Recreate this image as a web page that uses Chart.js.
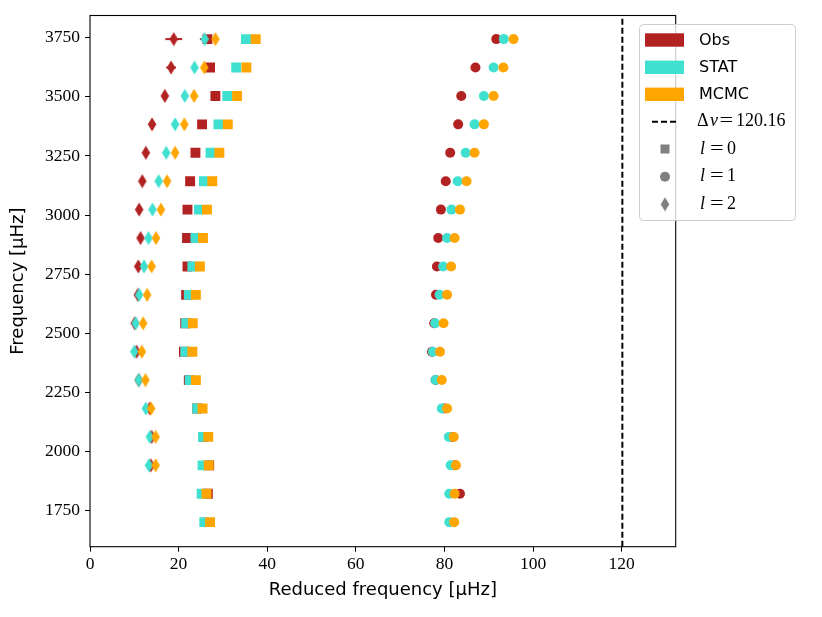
<!DOCTYPE html>
<html>
<head>
<meta charset="utf-8">
<script src="https://cdn.jsdelivr.net/npm/chart.js@4.4.0/dist/chart.umd.min.js"></script>
<style>
  html, body { margin: 0; padding: 0; background: #fff; }
</style>
</head>
<body>
<canvas id="echelle" width="822" height="617"></canvas>
<script>
// echelle rows, top row first [uHz]
const rowFreq = [3744.2, 3624.0, 3503.9, 3383.7, 3263.6, 3143.4, 3023.2, 2903.1, 2782.9,
                 2662.8, 2542.6, 2422.4, 2302.3, 2182.1, 2062.0, 1941.8, 1821.6, 1701.5];

// reduced frequencies (nu mod dnu), same row order
const obsL0  = [26.5, 27.1, 28.3, 25.3, 23.8, 22.6, 22.0, 21.9, 22.0, 21.7, 21.5, 21.2, 22.3, 24.2, 25.6, 26.9, 26.6, null];
const statL0 = [35.2, 33.0, 31.0, 29.0, 27.2, 25.7, 24.6, 23.8, 23.1, 22.3, 21.7, 21.5, 22.5, 24.2, 25.5, 25.4, 25.2, 25.8];
const mcmcL0 = [37.4, 35.3, 33.2, 31.1, 29.2, 27.6, 26.4, 25.5, 24.8, 23.9, 23.2, 23.1, 23.9, 25.4, 26.7, 26.8, 26.3, 27.1];

const obsL1  = [91.7, 87.0, 83.8, 83.1, 81.3, 80.3, 79.2, 78.6, 78.3, 78.1, 77.7, 77.2, 78.0, 80.0, 81.8, 82.4, 83.5, null];
const statL1 = [93.4, 91.1, 88.9, 86.8, 84.8, 83.0, 81.6, 80.6, 79.7, 78.9, 77.9, 77.4, 78.0, 79.4, 81.0, 81.4, 81.1, 81.1];
const mcmcL1 = [95.6, 93.3, 91.1, 88.9, 86.8, 85.0, 83.5, 82.3, 81.5, 80.6, 79.8, 79.0, 79.4, 80.6, 82.1, 82.6, 82.3, 82.2];

const obsL2  = [18.9, 18.3, 16.9, 14.0, 12.6, 11.8, 11.1, 11.4, 10.9, 10.8, 10.1, 10.5, 11.0, 13.5, 13.9, 13.7, null, null];
const statL2 = [25.9, 23.6, 21.4, 19.2, 17.2, 15.5, 14.1, 13.2, 12.2, 11.1, 10.3, 10.0, 11.0, 12.6, 13.5, 13.3, null, null];
const mcmcL2 = [28.3, 25.8, 23.5, 21.3, 19.2, 17.4, 16.0, 14.9, 13.9, 12.9, 12.0, 11.7, 12.5, 13.8, 14.8, 14.8, null, null];

// observed uncertainties (only the big ones stick out of the markers)
const obsL0Err = [1.7, 0, 0, 0, 0, 0, 0, 0, 0, 0, 0, 0, 0, 0, 0, 0, 0, 0];
const obsL2Err = [1.9, 1.1, 0, 0, 0, 0, 0, 0, 0, 0, 0, 0, 0, 0, 0, 0, 0, 0];

const deltaNu = 120.16;
const xTicks = [0, 20, 40, 60, 80, 100, 120];
const yTicks = [1750, 2000, 2250, 2500, 2750, 3000, 3250, 3500, 3750];
const xMax = 132.2;
const yMin = 1597.7, yMax = 3844;

const cObs = '#b22222', cStat = '#40e0d0', cMcmc = '#ffa500', cGray = '#808080';

function thinDiamond(color) {
  const c = document.createElement('canvas');
  c.width = 10; c.height = 15;
  const g = c.getContext('2d');
  g.fillStyle = color;
  g.beginPath();
  g.moveTo(5, 0.5); g.lineTo(9.3, 7.5); g.lineTo(5, 14.5); g.lineTo(0.7, 7.5);
  g.closePath();
  g.fill();
  return c;
}

function pts(vals) {
  return vals.map((v, i) => v == null ? null : {x: v, y: rowFreq[i]}).filter(p => p);
}

function marks(label, vals, color, shape, order) {
  return {
    label: label,
    data: pts(vals),
    order: order,
    showLine: false,
    backgroundColor: color,
    borderColor: color,
    borderWidth: 0,
    pointStyle: shape === 'd' ? thinDiamond(color) : shape,
    pointRadius: shape === 'rect' ? 7 : 5
  };
}

const errorBars = {
  id: 'errorBars',
  beforeDatasetsDraw(chart) {
    const {ctx, scales: {x, y}} = chart;
    ctx.save();
    ctx.strokeStyle = cObs;
    ctx.lineWidth = 2;
    [[obsL0, obsL0Err], [obsL2, obsL2Err]].forEach(([vals, errs]) => {
      vals.forEach((v, i) => {
        if (v == null || !errs[i]) return;
        const py = y.getPixelForValue(rowFreq[i]);
        ctx.beginPath();
        ctx.moveTo(x.getPixelForValue(v - errs[i]), py);
        ctx.lineTo(x.getPixelForValue(v + errs[i]), py);
        ctx.stroke();
      });
    });
    ctx.restore();
  }
};

const frame = {
  id: 'frame',
  afterDatasetsDraw(chart) {
    const {ctx, chartArea: a} = chart;
    ctx.save();
    ctx.strokeStyle = '#000';
    ctx.lineWidth = 1.1;
    ctx.strokeRect(a.left, a.top, a.right - a.left, a.bottom - a.top);
    ctx.restore();
  }
};

// wide TeX-like equals sign
function drawEq(ctx, x, y) {
  ctx.save();
  ctx.translate(x, y);
  ctx.scale(1.35, 1);
  ctx.font = '18px "Liberation Serif"';
  ctx.fillText('=', 0, 0);
  ctx.restore();
}

// matplotlib-like legend box
const legendBox = {
  id: 'legendBox',
  afterDraw(chart) {
    const ctx = chart.ctx;
    ctx.save();
    ctx.beginPath();
    ctx.roundRect(639.5, 24.5, 156, 196, 4);
    ctx.fillStyle = 'rgba(255,255,255,0.8)';
    ctx.fill();
    ctx.strokeStyle = '#cccccc';
    ctx.lineWidth = 1;
    ctx.stroke();

    const rows = [40, 67.3, 94.3, 121.7, 149, 176.7, 204.3];
    const tx = 699;
    ctx.textBaseline = 'middle';
    ctx.fillStyle = '#000';

    [['Obs', cObs], ['STAT', cStat], ['MCMC', cMcmc]].forEach(([t, col], i) => {
      ctx.fillStyle = col;
      ctx.fillRect(645, rows[i] - 6.7, 39, 13.4);
      ctx.fillStyle = '#000';
      ctx.font = '16px "DejaVu Sans"';
      ctx.fillText(t, tx, rows[i] + 1);
    });

    // dashed line entry
    ctx.strokeStyle = '#000';
    ctx.lineWidth = 2;
    ctx.setLineDash([6, 3]);
    ctx.beginPath();
    ctx.moveTo(652, rows[3]);
    ctx.lineTo(677, rows[3]);
    ctx.stroke();
    ctx.setLineDash([]);
    ctx.font = '18px "Liberation Serif"';
    ctx.fillText('\u0394', 697, rows[3]);
    ctx.font = 'italic 18px "Liberation Serif"';
    ctx.fillText('\u03bd', 710, rows[3]);
    drawEq(ctx, 719.5, rows[3]);
    ctx.font = '18px "Liberation Serif"';
    ctx.fillText('120.16', 736, rows[3]);

    // marker entries
    ctx.fillStyle = cGray;
    ctx.fillRect(660.5, rows[4] - 4.5, 9, 9);
    ctx.beginPath();
    ctx.arc(665, rows[5], 5, 0, Math.PI * 2);
    ctx.fill();
    ctx.drawImage(thinDiamond(cGray), 660, rows[6] - 7.5);

    ctx.fillStyle = '#000';
    ['0', '1', '2'].forEach((d, i) => {
      const ry = rows[4 + i];
      ctx.font = 'italic 18px "Liberation Serif"';
      ctx.fillText('l', 700, ry);
      drawEq(ctx, 710, ry);
      ctx.font = '18px "Liberation Serif"';
      ctx.fillText(d, 727, ry);
    });
    ctx.restore();
  }
};

const datasets = [
  marks('Obs l=0', obsL0, cObs, 'rect', 3),
  marks('Obs l=1', obsL1, cObs, 'circle', 3),
  marks('Obs l=2', obsL2, cObs, 'd', 3),
  marks('STAT l=0', statL0, cStat, 'rect', 2),
  marks('STAT l=1', statL1, cStat, 'circle', 2),
  marks('STAT l=2', statL2, cStat, 'd', 2),
  marks('MCMC l=0', mcmcL0, cMcmc, 'rect', 1),
  marks('MCMC l=1', mcmcL1, cMcmc, 'circle', 1),
  marks('MCMC l=2', mcmcL2, cMcmc, 'd', 1),
  {
    label: 'dnu',
    data: [{x: deltaNu, y: yMin}, {x: deltaNu, y: yMax}],
    order: 0,
    showLine: true,
    borderColor: '#000',
    borderWidth: 2,
    borderDash: [6, 3],
    pointRadius: 0
  }
];

const tickFont = {family: 'Liberation Serif', size: 17.5};
const titleFont = {family: 'DejaVu Sans', size: 18};

new Chart(document.getElementById('echelle'), {
  type: 'scatter',
  data: { datasets: datasets },
  options: {
    responsive: false,
    animation: false,
    devicePixelRatio: 1,
    events: [],
    layout: { padding: { top: 15.5, right: 146.3, left: 0, bottom: 0 } },
    plugins: { legend: { display: false }, tooltip: { enabled: false } },
    scales: {
      x: {
        type: 'linear', min: 0, max: xMax,
        afterBuildTicks: s => { s.ticks = xTicks.map(v => ({value: v})); },
        afterFit: s => { s.height = 70.3; },
        grid: { display: true, drawOnChartArea: false, drawTicks: true, tickLength: 5, color: '#000', tickColor: '#000', tickWidth: 1 },
        border: { display: false },
        ticks: { font: tickFont, color: '#000', padding: 2, maxRotation: 0, autoSkip: false, callback: v => String(v) },
        title: { display: true, text: 'Reduced frequency [\u03bcHz]', font: titleFont, color: '#000', padding: {top: 0, bottom: 16} }
      },
      y: {
        type: 'linear', min: yMin, max: yMax,
        afterBuildTicks: s => { s.ticks = yTicks.map(v => ({value: v})); },
        afterFit: s => { s.width = 90; },
        grid: { display: true, drawOnChartArea: false, drawTicks: true, tickLength: 5, color: '#000', tickColor: '#000', tickWidth: 1 },
        border: { display: false },
        ticks: { font: tickFont, color: '#000', padding: 5, autoSkip: false, callback: v => String(v) },
        title: { display: true, text: 'Frequency [\u03bcHz]', font: titleFont, color: '#000', padding: {top: 8, bottom: 0} }
      }
    }
  },
  plugins: [errorBars, frame, legendBox]
});
</script>
</body>
</html>
